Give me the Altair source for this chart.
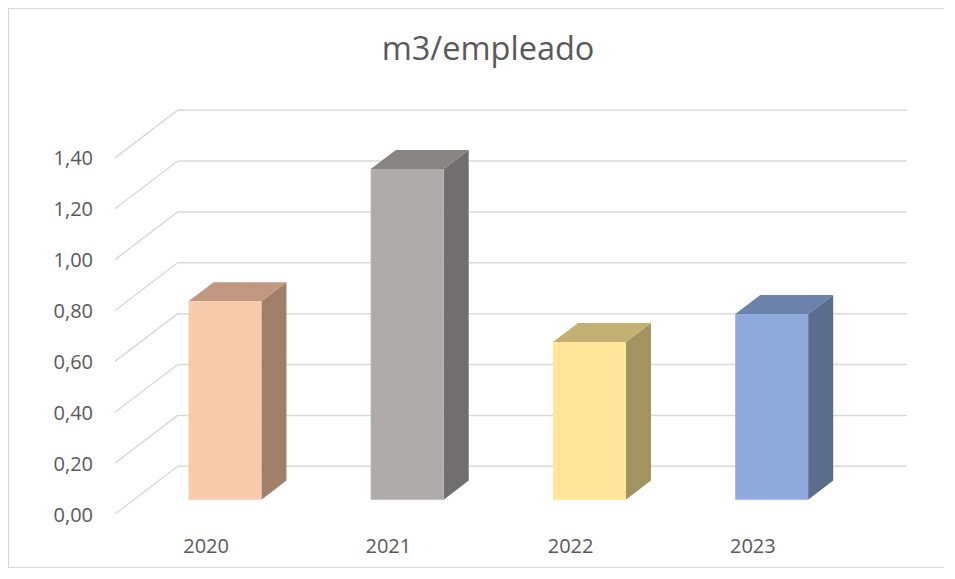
import altair as alt
import pandas as pd

# ---- data ----
title_text = "m3/empleado"
years = ["2020", "2021", "2022", "2023"]
values = [0.78, 1.30, 0.62, 0.73]
front_colors = ["#F8CBAD", "#AFABAB", "#FFE699", "#8FAADC"]
side_colors = ["#A08069", "#706E6E", "#A29360", "#5B6D8C"]
top_colors = ["#BF987F", "#878483", "#C3B173", "#6B82AB"]
y_ticks = [0.0, 0.2, 0.4, 0.6, 0.8, 1.0, 1.2, 1.4]

# ---- 3D projection geometry (style constants) ----
DEPTH_X = 0.344   # floor depth in x-scale units
DEPTH_Y = 0.1875  # floor depth in y-scale units
HALF = 0.2        # half of the bar width in x units
F1, F2 = 0.3, 0.7 # bar front/back depth fractions

FONT = "Open Sans"
GREY = "#595959"
GRID = "#D9D9D9"

xs = alt.Scale(domain=[0, 4], nice=False, zero=False)
ys = alt.Scale(domain=[0, 1.6], nice=False, zero=False)

def X(f):
    return alt.X(f, scale=xs, axis=None)

def Y(f):
    return alt.Y(f, scale=ys, axis=None)

# gridlines (back wall + left wall)
back = pd.DataFrame({"v": y_ticks})
back["x"] = DEPTH_X
back["x2"] = 4 + DEPTH_X
back["y"] = back["v"] + DEPTH_Y
back["y0"] = back["v"]
back["x0"] = 0.0
back["label"] = [f"{v:.2f}".replace(".", ",") for v in y_ticks]

back_rules = alt.Chart(back).mark_rule(color=GRID, strokeWidth=1.4).encode(
    x=X("x:Q"), x2="x2:Q", y=Y("y:Q"))
side_rules = alt.Chart(back).mark_rule(color=GRID, strokeWidth=1.4).encode(
    x=X("x0:Q"), x2="x:Q", y=Y("y0:Q"), y2="y:Q")
ylabels = alt.Chart(back).mark_text(font=FONT, fontSize=20, color=GREY, align="right",
                                    baseline="alphabetic", dx=-22, dy=7.5).encode(
    x=X("x0:Q"), y=Y("y0:Q"), text="label:N")

# bars
rows_front, rows_side, rows_top = [], [], []
for i, (yr, v) in enumerate(zip(years, values)):
    c = i + 0.5
    rows_front.append({"year": yr, "x": c - HALF + F1 * DEPTH_X, "x2": c + HALF + F1 * DEPTH_X,
                       "y": v + F1 * DEPTH_Y, "y2": F1 * DEPTH_Y, "col": front_colors[i]})
    for f in (F1, F2):
        rows_side.append({"year": yr, "x": c + HALF + f * DEPTH_X, "y": v + f * DEPTH_Y,
                          "y2": f * DEPTH_Y, "col": side_colors[i]})
        rows_top.append({"year": yr, "y": v + f * DEPTH_Y, "x": c - HALF + f * DEPTH_X,
                         "x2": c + HALF + f * DEPTH_X, "col": top_colors[i]})

side = alt.Chart(pd.DataFrame(rows_side)).mark_area(orient="vertical").encode(
    x=X("x:Q"), y=Y("y:Q"), y2="y2:Q",
    color=alt.Color("col:N", scale=None), detail="year:N")
top = alt.Chart(pd.DataFrame(rows_top)).mark_area(orient="horizontal").encode(
    y=Y("y:Q"), x=X("x:Q"), x2="x2:Q",
    color=alt.Color("col:N", scale=None), detail="year:N")
front = alt.Chart(pd.DataFrame(rows_front)).mark_rect().encode(
    x=X("x:Q"), x2="x2:Q", y=Y("y:Q"), y2="y2:Q",
    color=alt.Color("col:N", scale=None))

# category labels
lab = pd.DataFrame({"year": years, "x": [i + 0.5 for i in range(len(years))], "y": 0.0})
xlabels = alt.Chart(lab).mark_text(font=FONT, fontSize=20, color=GREY,
                                   baseline="alphabetic", dy=38.5).encode(
    x=X("x:Q"), y=Y("y:Q"), text="year:N")

# chart title
title = alt.Chart(pd.DataFrame({"t": [title_text]})).mark_text(
    font=FONT, fontSize=32.5, color=GREY, baseline="alphabetic", align="center").encode(
    x=alt.value(373), y=alt.value(-47), text="t:N")

# outer border of the chart
border = alt.Chart(pd.DataFrame({"a": [0]})).mark_rect(
    fill=None, filled=False, stroke=GRID, strokeWidth=1.2).encode(
    x=alt.value(-106.5), x2=alt.value(830), y=alt.value(-98.5), y2=alt.value(460.5))

chart = alt.layer(back_rules, side_rules, ylabels, side, top, front, xlabels, title, border).properties(
    width=729, height=407,
    background="white",
    autosize=alt.AutoSizeParams(type="none"),
    padding={"left": 107, "top": 99, "right": 100, "bottom": 54},
).configure_view(stroke=None)

chart.save("out.html", embed_options={"renderer": "svg", "actions": False})
